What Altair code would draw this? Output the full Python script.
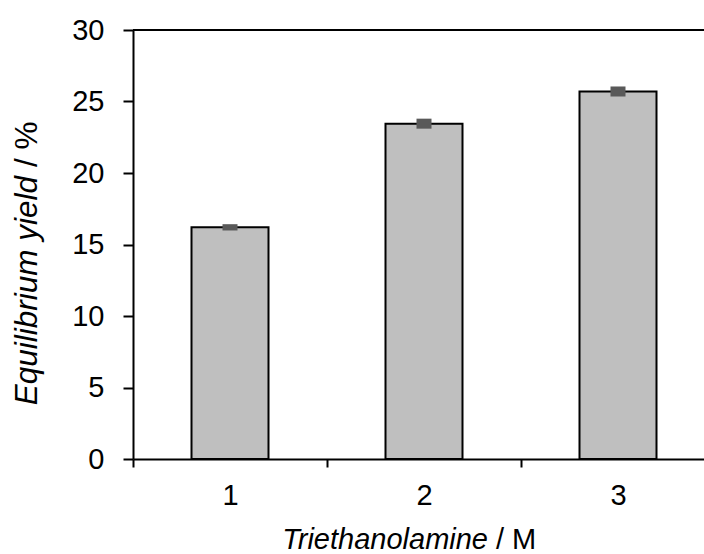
import altair as alt
import pandas as pd

# Triethanolamine concentration (M) and equilibrium yield (%) with error
concentration = [1, 2, 3]
yield_pct = [16.2, 23.45, 25.7]
yield_err = [0.22, 0.35, 0.35]

y_ticks = [0, 5, 10, 15, 20, 25, 30]
x_boundaries = [0.5, 1.5, 2.5]

x_title_italic = "Triethanolamine"
x_title_unit = "/ M"
y_title_italic = "Equilibrium yield"
y_title_unit = "/ %"

FONT = "Liberation Sans"
FS = 29
FS_YT = 31.5

# layout (pixels)
left, top, bottom = 133, 30, 95
plot_w, plot_h = 704 - left, 429
step_px = 194  # width of one category cell

df = pd.DataFrame({"conc": concentration, "yield": yield_pct, "err": yield_err})
df["lo"] = df["yield"] - df["err"]
df["hi"] = df["yield"] + df["err"]

x_scale = alt.Scale(domain=[0.5, 0.5 + plot_w / step_px], nice=False, zero=False, padding=0)
y_scale = alt.Scale(domain=[0, 30], nice=False, padding=0)

x_axis = alt.Axis(
    values=x_boundaries,
    labelExpr="format(datum.value + 0.5, 'd')",
    labelOffset=step_px / 2,
    labelFlush=False,
    title=None,
    grid=False,
    domainColor="black",
    domainWidth=2,
    tickColor="black",
    tickWidth=2,
    tickSize=8,
    labelFont=FONT,
    labelFontSize=FS,
    labelColor="black",
    labelPadding=14,
)
y_axis = alt.Axis(
    values=y_ticks,
    title=None,
    grid=False,
    domainColor="black",
    domainWidth=2,
    tickColor="black",
    tickWidth=2,
    tickSize=10,
    labelFont=FONT,
    labelFontSize=FS,
    labelColor="black",
    labelPadding=19,
)

base = alt.Chart(df)

bars = base.mark_bar(size=77, fill="#bfbfbf", stroke="black", strokeWidth=2).encode(
    x=alt.X("conc:Q", scale=x_scale, axis=x_axis),
    y=alt.Y("yield:Q", scale=y_scale, axis=y_axis),
)

errs = base.mark_bar(size=15, color="#595959").encode(
    x=alt.X("conc:Q", scale=x_scale),
    y=alt.Y("lo:Q", scale=y_scale),
    y2="hi:Q",
)

frame_top = alt.Chart(pd.DataFrame({"v": [y_ticks[-1]]})).mark_rule(
    color="black", strokeWidth=2
).encode(y=alt.Y("v:Q", scale=y_scale))

title_df = pd.DataFrame({"a": [0]})

xt_italic = alt.Chart(title_df).mark_text(
    text=x_title_italic, font=FONT, fontSize=FS, fontStyle="italic",
    align="right", baseline="middle", color="black",
).encode(x=alt.value(355), y=alt.value(510))

xt_unit = alt.Chart(title_df).mark_text(
    text=x_title_unit, font=FONT, fontSize=FS,
    align="left", baseline="middle", color="black",
).encode(x=alt.value(363), y=alt.value(510))

yt_italic = alt.Chart(title_df).mark_text(
    text=y_title_italic, font=FONT, fontSize=FS_YT, fontStyle="italic",
    align="right", baseline="middle", angle=270, color="black",
).encode(x=alt.value(-105), y=alt.value(146))

yt_unit = alt.Chart(title_df).mark_text(
    text=y_title_unit, font=FONT, fontSize=FS_YT,
    align="left", baseline="middle", angle=270, color="black",
).encode(x=alt.value(-105), y=alt.value(137))

chart = (
    alt.layer(bars, errs, frame_top, xt_italic, xt_unit, yt_italic, yt_unit)
    .properties(
        width=plot_w,
        height=plot_h,
        autosize=alt.AutoSizeParams(type="none"),
        padding={"left": left, "top": top, "right": 0, "bottom": bottom},
        background="white",
    )
    .configure_view(stroke=None)
)

chart.save("out.html", embed_options={"renderer": "svg", "actions": False})
